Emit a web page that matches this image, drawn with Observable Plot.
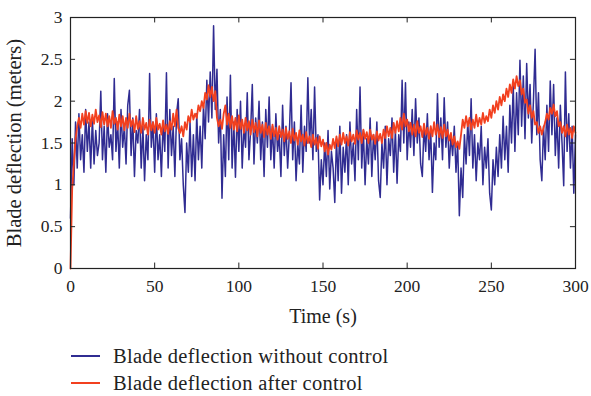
<!DOCTYPE html>
<html>
<head>
<meta charset="utf-8">
<script src="https://cdn.jsdelivr.net/npm/d3@7"></script>
<script src="https://cdn.jsdelivr.net/npm/@observablehq/plot@0.6"></script>
<style>
  html, body { margin: 0; padding: 0; background: #fff; }
  body { width: 591px; height: 396px; overflow: hidden; font-family: "Liberation Serif", "DejaVu Serif", serif; }
  #legend { position: relative; height: 66px; }
  .item { position: absolute; left: 71px; height: 24px; line-height: 24px; display: flex; align-items: center; font-size: 20.5px; letter-spacing: 0.3px; color: #222; white-space: nowrap; }
  .item .sw { display: inline-block; width: 29px; height: 1.5px; margin-right: 13px; }
</style>
</head>
<body>
<div id="chart"></div>
<div id="legend"></div>
<script>
// ---- data ----
const seriesNames = ["Blade deflection without control", "Blade deflection after control"];
const seriesColors = ["#302c92", "#f2401f"];
const xTicks = [0, 50, 100, 150, 200, 250, 300];
const yTicks = [0, 0.5, 1, 1.5, 2, 2.5, 3];
const tStart = 0, tEnd = 300;

// blade deflection without control (m), one sample per second, t = 0..300
const withoutControl = [
0.6,1.55,1.0,1.75,1.2,1.85,1.3,1.6,1.15,1.9,1.4,1.75,1.2,1.8,1.25,1.65,1.35,1.5,2.12,1.3,
1.7,1.15,1.85,1.45,1.6,1.3,2.27,1.4,1.75,1.2,1.9,1.45,1.7,1.25,1.95,2.13,1.35,1.8,1.1,1.65,
1.5,1.9,1.2,1.7,1.05,1.6,1.3,2.33,1.45,1.75,1.15,1.85,1.3,1.6,1.1,1.75,1.4,2.34,1.2,1.9,
1.35,1.7,1.1,1.85,2.03,1.3,1.55,1.0,0.67,1.5,1.15,1.75,1.1,1.6,1.05,1.85,1.3,1.7,1.2,1.95,
1.55,2.25,1.75,2.35,1.8,2.9,1.9,2.38,1.5,1.9,0.84,1.6,1.1,2.05,1.3,2.31,1.2,1.75,1.09,1.9,
1.4,2.0,1.2,1.7,1.45,2.1,1.3,1.65,2.2,1.25,1.8,1.5,2.0,1.3,1.75,1.1,1.9,1.45,2.05,1.3,
1.7,1.2,1.85,1.4,1.6,1.1,1.95,1.35,1.7,1.2,1.6,2.22,1.3,1.75,1.05,1.5,1.25,1.95,1.15,1.7,
1.4,2.28,1.5,1.9,1.3,2.17,1.4,1.6,0.82,1.3,1.0,1.5,1.1,1.65,0.95,1.4,1.2,0.79,1.55,1.05,
1.7,0.9,1.45,1.15,1.6,1.0,1.75,1.25,1.5,1.05,1.9,1.3,2.17,1.2,1.65,1.0,1.55,1.25,1.8,1.1,
1.6,1.3,1.75,1.05,0.85,1.5,1.2,1.7,1.0,1.55,1.35,1.8,1.15,1.65,1.02,1.6,1.4,2.25,1.5,2.22,
1.3,1.75,1.45,1.9,1.35,2.03,1.5,1.8,1.25,1.1,1.7,1.4,1.85,1.3,1.65,0.91,1.5,1.3,2.09,1.45,
1.8,1.3,2.04,1.45,1.75,1.2,1.6,1.35,1.7,1.15,1.5,0.63,1.2,0.85,1.6,1.25,1.75,1.35,2.03,1.2,
1.6,1.05,1.5,1.3,1.7,1.0,1.45,1.2,1.55,0.9,0.7,1.3,1.0,1.45,1.1,1.6,1.2,1.82,1.3,1.7,
1.15,1.95,1.5,2.2,1.4,2.1,1.6,2.49,1.7,2.3,1.55,2.45,1.8,2.2,1.5,2.0,2.62,1.6,2.1,1.3,
1.05,1.7,1.3,1.95,1.4,2.24,1.6,2.2,1.35,1.8,1.2,1.95,1.5,0.99,2.35,1.4,1.85,1.2,1.7,0.9,
1.6
];

// blade deflection after control (m), one sample per second, t = 0..300
const afterControl = [
0.0,0.95,1.25,1.55,1.7,1.8,1.68,1.85,1.72,1.88,1.74,
1.86,1.7,1.84,1.73,1.9,1.75,1.83,1.69,1.87,1.72,1.85,1.7,1.82,1.68,1.88,1.73,1.8,1.66,1.84,1.7,
1.82,1.65,1.8,1.68,1.85,1.7,1.78,1.63,1.82,1.67,1.76,1.62,1.8,1.66,1.74,1.6,1.78,1.65,1.75,1.62,
1.8,1.66,1.73,1.6,1.77,1.64,1.72,1.61,1.76,1.66,
1.85,1.7,1.9,1.68,1.62,1.7,1.58,1.75,1.66,1.82,
1.75,1.9,1.78,1.85,1.8,1.95,1.88,2.0,1.92,2.1,2.02,2.19,2.05,2.17,2.0,2.12,
1.8,1.7,1.78,1.67,1.85,1.95,
1.72,1.85,1.68,1.82,1.66,1.8,1.64,1.83,1.67,1.78,1.62,1.8,1.65,1.76,1.6,1.78,1.63,1.74,1.58,1.77,
1.62,1.72,1.57,1.74,1.6,1.7,1.55,1.72,1.58,1.68,1.54,1.7,1.57,
1.66,1.52,1.68,1.55,1.64,1.5,1.67,1.53,1.62,1.48,1.65,1.52,1.6,1.47,1.63,1.5,1.58,1.45,1.6,1.48,
1.56,1.43,1.58,1.46,1.54,
1.4,1.5,1.36,1.48,1.42,1.55,1.44,1.58,1.46,1.6,1.48,1.62,1.5,1.58,1.47,1.63,1.52,1.6,1.49,1.65,
1.54,1.62,1.5,1.66,1.55,
1.63,1.5,1.66,1.54,1.6,1.49,1.64,1.53,1.61,1.5,1.66,1.56,1.7,1.58,1.68,1.56,1.74,1.62,1.76,1.64,
1.8,1.66,1.85,1.7,1.78,
1.64,1.74,1.6,1.72,1.58,1.76,1.62,1.7,1.57,1.73,1.6,1.68,1.55,1.7,1.58,1.75,1.6,1.72,1.57,1.69,
1.56,1.72,1.58,1.66,1.53,1.62,1.48,1.58,1.45,1.52,
1.43,1.6,1.78,1.68,1.82,1.7,1.8,1.66,1.78,1.68,1.84,1.7,1.8,1.72,1.86,1.74,1.82,1.76,1.9,1.8,
1.95,1.86,2.0,1.9,2.05,1.95,2.08,2.0,2.15,2.05,2.2,2.1,2.26,2.15,2.3,2.18,2.25,2.08,2.15,1.98,
2.02,1.85,1.95,1.8,1.88,1.72,1.75,1.62,1.7,1.6,1.68,1.75,1.85,1.78,1.92,1.85,1.96,1.82,1.88,1.7,
1.75,1.62,1.7,1.58,1.72,1.6,1.68,1.56,1.7,1.62
];

// ---- build tables ----
function toRows(values, name) {
  const n = values.length;
  return values.map((v, i) => ({t: tStart + i * (tEnd - tStart) / (n - 1), v, name}));
}
const rows0 = toRows(withoutControl, seriesNames[0]);
const rows1 = toRows(afterControl, seriesNames[1]);

const tickLenY = 0.065; // in y units (~5px)
const tickLenX = 3;     // in x units (~5px)

const chart = Plot.plot({
  width: 591,
  height: 330,
  marginLeft: 70,
  marginRight: 16,
  marginTop: 17,
  marginBottom: 62,
  style: {fontFamily: "'Liberation Serif', 'DejaVu Serif', serif", fontSize: "17px", color: "#222", background: "#fff"},
  x: {domain: [tStart, tEnd]},
  y: {domain: [0, 3]},
  marks: [
    Plot.lineY(rows0, {x: "t", y: "v", stroke: seriesColors[0], strokeWidth: 1.5}),
    Plot.lineY(rows1, {x: "t", y: "v", stroke: seriesColors[1], strokeWidth: 1.8}),
    // inward ticks on all four sides
    Plot.ruleX(xTicks, {x: d => d, y1: 0, y2: tickLenY, stroke: "#222"}),
    Plot.ruleX(xTicks, {x: d => d, y1: 3, y2: 3 - tickLenY, stroke: "#222"}),
    Plot.ruleY(yTicks, {y: d => d, x1: tStart, x2: tStart + tickLenX, stroke: "#222"}),
    Plot.ruleY(yTicks, {y: d => d, x1: tEnd, x2: tEnd - tickLenX, stroke: "#222"}),
    Plot.frame({stroke: "#222", strokeWidth: 1.2}),
    Plot.axisX(xTicks, {tickSize: 0, tickPadding: 11, fontSize: 17.5, label: null}),
    Plot.axisX({ticks: [], tickSize: 0, label: "Time (s)", labelAnchor: "center", labelOffset: 54, labelArrow: "none", fontSize: 20}),
    Plot.axisY(yTicks, {tickSize: 0, tickPadding: 8, fontSize: 17.5, tickFormat: d => String(d), label: null}),
    Plot.axisY({ticks: [], tickSize: 0, label: "Blade deflection (meters)", labelAnchor: "center", labelOffset: 64, labelArrow: "none", fontSize: 20.5})
  ]
});
document.getElementById("chart").appendChild(chart);

const legend = document.getElementById("legend");
seriesNames.forEach((name, i) => {
  const div = document.createElement("div");
  div.className = "item";
  div.style.top = (i === 0 ? 14 : 41) + "px";
  const sw = document.createElement("span");
  sw.className = "sw";
  sw.style.background = seriesColors[i];
  const label = document.createElement("span");
  label.textContent = name;
  div.appendChild(sw);
  div.appendChild(label);
  legend.appendChild(div);
});
</script>
</body>
</html>
